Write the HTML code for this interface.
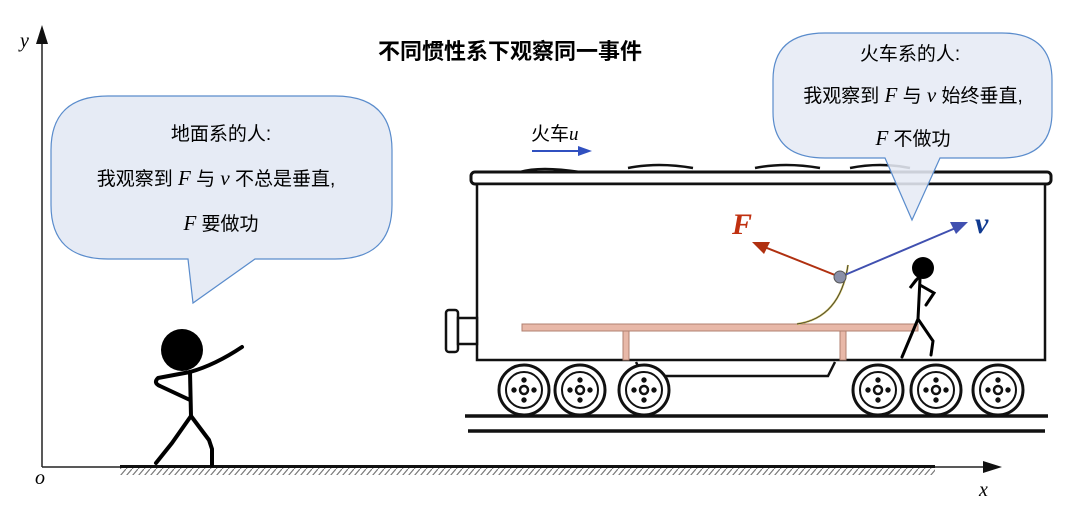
<!DOCTYPE html>
<html><head><meta charset="utf-8"><style>
html,body{margin:0;padding:0;background:#fff}
svg{display:block}
text{font-family:"Liberation Sans","Noto Sans CJK SC",sans-serif}
.m{font-family:"Liberation Serif","Noto Serif CJK SC",serif;font-style:italic}
.b{font-family:"Liberation Serif",serif;font-style:italic;font-weight:bold}
</style></head><body>
<svg width="1080" height="513" viewBox="0 0 1080 513" xmlns="http://www.w3.org/2000/svg">
<defs>
<pattern id="h" width="6" height="7" patternUnits="userSpaceOnUse"><path d="M6,0 L0,7" stroke="#777" stroke-width="1.2"/></pattern>
</defs>
<line x1="42" y1="467" x2="42" y2="40" stroke="#222" stroke-width="1.5"/>
<polygon points="42,25 36,44 48,44" fill="#111"/>
<line x1="42" y1="467" x2="985" y2="467" stroke="#222" stroke-width="1.5"/>
<polygon points="1002,467 983,461 983,473" fill="#111"/>
<rect x="120" y="465" width="815" height="3" fill="#111"/>
<rect x="120" y="468" width="815" height="7" fill="url(#h)"/>
<text x="20" y="47" class="m" font-size="20">y</text>
<text x="35" y="484" class="m" font-size="20">o</text>
<text x="979" y="496" class="m" font-size="20">x</text>
<text x="510" y="59" font-size="22" font-weight="bold" text-anchor="middle">不同惯性系下观察同一事件</text>

<g stroke="#111" fill="none" stroke-width="3">
<path d="M520,172 q20,-6 60,0 M628,168 q30,-6 65,0 M755,168 q30,-6 65,0 M850,168 q30,-6 60,0" stroke-width="2.5"/>
<rect x="471" y="172" width="580" height="12" rx="4" fill="#fff"/>
<rect x="477" y="184" width="568" height="176" fill="#fff" stroke-width="2.5"/>
<rect x="446" y="310" width="12" height="42" rx="3" fill="#fff" stroke-width="2.5"/>
<rect x="458" y="318" width="19" height="26" fill="#fff" stroke-width="2.5"/>
<path d="M636,362 l7,14 h185 l7,-14" stroke-width="2.5"/>
<line x1="465" y1="416" x2="1048" y2="416" stroke-width="3.5"/>
<line x1="468" y1="431" x2="1045" y2="431" stroke-width="3.5"/>
</g>
<g stroke="#111" fill="#fff">
<g transform="translate(524,390)"><circle r="25" stroke-width="3"/><circle r="18" stroke-width="2"/><circle r="4" stroke-width="2.5"/><circle cx="0" cy="-10" r="2.2" fill="#111"/><circle cx="0" cy="10" r="2.2" fill="#111"/><circle cx="-10" cy="0" r="2.2" fill="#111"/><circle cx="10" cy="0" r="2.2" fill="#111"/></g>
<g transform="translate(580,390)"><circle r="25" stroke-width="3"/><circle r="18" stroke-width="2"/><circle r="4" stroke-width="2.5"/><circle cx="0" cy="-10" r="2.2" fill="#111"/><circle cx="0" cy="10" r="2.2" fill="#111"/><circle cx="-10" cy="0" r="2.2" fill="#111"/><circle cx="10" cy="0" r="2.2" fill="#111"/></g>
<g transform="translate(644,390)"><circle r="25" stroke-width="3"/><circle r="18" stroke-width="2"/><circle r="4" stroke-width="2.5"/><circle cx="0" cy="-10" r="2.2" fill="#111"/><circle cx="0" cy="10" r="2.2" fill="#111"/><circle cx="-10" cy="0" r="2.2" fill="#111"/><circle cx="10" cy="0" r="2.2" fill="#111"/></g>
<g transform="translate(878,390)"><circle r="25" stroke-width="3"/><circle r="18" stroke-width="2"/><circle r="4" stroke-width="2.5"/><circle cx="0" cy="-10" r="2.2" fill="#111"/><circle cx="0" cy="10" r="2.2" fill="#111"/><circle cx="-10" cy="0" r="2.2" fill="#111"/><circle cx="10" cy="0" r="2.2" fill="#111"/></g>
<g transform="translate(936,390)"><circle r="25" stroke-width="3"/><circle r="18" stroke-width="2"/><circle r="4" stroke-width="2.5"/><circle cx="0" cy="-10" r="2.2" fill="#111"/><circle cx="0" cy="10" r="2.2" fill="#111"/><circle cx="-10" cy="0" r="2.2" fill="#111"/><circle cx="10" cy="0" r="2.2" fill="#111"/></g>
<g transform="translate(998,390)"><circle r="25" stroke-width="3"/><circle r="18" stroke-width="2"/><circle r="4" stroke-width="2.5"/><circle cx="0" cy="-10" r="2.2" fill="#111"/><circle cx="0" cy="10" r="2.2" fill="#111"/><circle cx="-10" cy="0" r="2.2" fill="#111"/><circle cx="10" cy="0" r="2.2" fill="#111"/></g>
</g>
<rect x="522" y="324" width="396" height="7" fill="#e8b8a8" stroke="#b08070" stroke-width="1"/>
<rect x="623" y="331" width="6" height="29" fill="#e8b8a8" stroke="#b08070" stroke-width="1"/>
<rect x="840" y="331" width="6" height="29" fill="#e8b8a8" stroke="#b08070" stroke-width="1"/>
<path d="M797,324 Q840,318 848,265" fill="none" stroke="#c8b850" stroke-width="2"/>
<path d="M797,324 Q840,318 848,265" fill="none" stroke="#333" stroke-width="0.8"/>
<line x1="840" y1="277" x2="762" y2="246" stroke="#b03010" stroke-width="2"/>
<polygon points="752,242 770,242 764,254" fill="#b03010"/>
<line x1="840" y1="277" x2="958" y2="227" stroke="#4050b0" stroke-width="2"/>
<polygon points="968,222 950,222 956,234" fill="#4050b0"/>
<circle cx="840" cy="277" r="6" fill="#8a90a8" stroke="#555"/>
<text x="732" y="234" font-size="30" class="b" fill="#c03010">F</text>
<text x="975" y="233" font-size="30" class="b" fill="#103a90">v</text>
<text x="531" y="140" font-size="19">火车<tspan class="m">u</tspan></text>
<line x1="532" y1="151" x2="580" y2="151" stroke="#3050c0" stroke-width="2"/>
<polygon points="592,151 578,146 578,156" fill="#3050c0"/>
<g stroke="#000" stroke-width="3" fill="none" stroke-linecap="round">
<circle cx="923" cy="268" r="11" fill="#000" stroke="none"/>
<path d="M918,278 l-8,10 l6,-8"/>
<path d="M920,279 l-2,40 M920,285 l14,8 l-8,12"/>
<path d="M918,319 l-16,38 M918,319 l15,22 l-2,14"/>
</g>
<g stroke="#000" stroke-width="4" fill="none" stroke-linecap="round" stroke-linejoin="round">
<circle cx="182" cy="350" r="21" fill="#000" stroke="none"/>
<path d="M190,372 Q215,365 242,347"/>
<path d="M190,372 L158,378 Q153,383 160,386 L190,400"/>
<path d="M190,372 L191,416"/>
<path d="M191,416 L172,443 L156,463"/>
<path d="M191,416 L209,440 L212,449 L212,465"/>
</g>
<path d="M108,96 H335 Q392,96 392,150 V205 Q392,259 335,259 H255 L193,303 L188,259 H108 Q51,259 51,205 V150 Q51,96 108,96 Z" fill="#e6ebf5" stroke="#5a8ccc" stroke-width="1.2"/>
<text x="221" y="140" font-size="19" text-anchor="middle">地面系的人:</text>
<text x="216" y="185" font-size="19" text-anchor="middle">我观察到<tspan class="m" font-size="21"> F </tspan>与<tspan class="m" font-size="21"> v </tspan>不总是垂直,</text>
<text x="221" y="230" font-size="19" text-anchor="middle"><tspan class="m" font-size="21">F </tspan>要做功</text>
<path d="M825,33 H1002 Q1052,33 1052,80 V112 Q1052,158 1002,158 H940 L912,220 L885,158 H825 Q773,158 773,112 V80 Q773,33 825,33 Z" fill="#e6ebf5" fill-opacity="0.88" stroke="#5a8ccc" stroke-width="1.2"/>
<text x="910" y="60" font-size="19" text-anchor="middle">火车系的人:</text>
<text x="913" y="102" font-size="19" text-anchor="middle">我观察到<tspan class="m" font-size="21"> F </tspan>与<tspan class="m" font-size="21"> v </tspan>始终垂直,</text>
<text x="913" y="145" font-size="19" text-anchor="middle"><tspan class="m" font-size="21">F </tspan>不做功</text>
</svg>
</body></html>
